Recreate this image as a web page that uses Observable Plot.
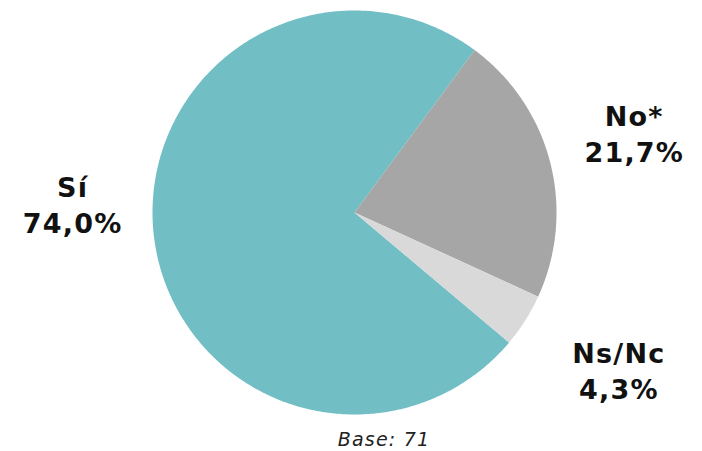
<!DOCTYPE html>
<html>
<head>
<meta charset="utf-8">
<script src="https://cdn.jsdelivr.net/npm/d3@7"></script>
<script src="https://cdn.jsdelivr.net/npm/@observablehq/plot@0.6"></script>
<style>
  body { margin: 0; background: #fff; }
  #chart { width: 702px; }
  .caption { font-family: "DejaVu Sans", Verdana, sans-serif; font-style: italic; font-size: 19px; letter-spacing: 1.2px; color: #222; text-align: center; padding-left: 66px; width: 636px; margin-top: 4px; }
</style>
</head>
<body>
<div id="chart"></div>
<script>
const categories = ["Sí", "No*", "Ns/Nc"];
const values = [74.0, 21.7, 4.3];
const labels = ["74,0%", "21,7%", "4,3%"];
const colors = ["#72BEC5", "#A6A6A6", "#D9D9D9"];
// layout only
const startAngleDeg = 130.1;
const labelRadius = [1.40, 1.43, 1.52];
const labelDx = [-1, 0, 5];
const labelDy = [-39, -5, -4];

const data = categories.map((c, i) => ({category: c, value: values[i], label: labels[i], color: colors[i]}));
const start = startAngleDeg * Math.PI / 180;
const arcs = d3.pie().value(d => d.value).sort(null)
  .startAngle(start).endAngle(start + 2 * Math.PI)(data);

// polygon points for each slice in unit coordinates (x right, y up)
const slicePts = [];
arcs.forEach((a, k) => {
  slicePts.push({k, x: 0, y: 0, color: a.data.color});
  const n = Math.max(2, Math.ceil((a.endAngle - a.startAngle) / 0.01));
  for (let j = 0; j <= n; j++) {
    const t = a.startAngle + (a.endAngle - a.startAngle) * j / n;
    slicePts.push({k, x: Math.sin(t), y: Math.cos(t), color: a.data.color});
  }
  slicePts.push({k, x: 0, y: 0, color: a.data.color});
});

const labelPts = arcs.map((a, i) => {
  const m = (a.startAngle + a.endAngle) / 2;
  const r = labelRadius[i];
  return {x: r * Math.sin(m), y: r * Math.cos(m), cat: a.data.category, pct: a.data.label, dx: labelDx[i], dy: labelDy[i]};
});

const W = 702, H = 424;
const marks = [
  Plot.line(slicePts, {x: "x", y: "y", z: "k", fill: "color", stroke: "none", curve: "linear"})
];
labelPts.forEach(p => {
  marks.push(Plot.text([p], {x: "x", y: "y", text: "cat", dx: p.dx, dy: p.dy - 18, fontSize: 27, fontWeight: "bold", fill: "#111"}));
  marks.push(Plot.text([p], {x: "x", y: "y", text: "pct", dx: p.dx, dy: p.dy + 18, fontSize: 27, fontWeight: "bold", fill: "#111"}));
});

const plot = Plot.plot({
  width: W, height: H,
  marginLeft: 152, marginRight: 146, marginTop: 10, marginBottom: 10,
  x: {domain: [-1, 1], axis: null},
  y: {domain: [-1, 1], axis: null},
  style: {fontFamily: "'DejaVu Sans', Verdana, sans-serif", background: "#fff", overflow: "visible", letterSpacing: "1.2px"},
  marks
});
document.getElementById("chart").appendChild(plot);
const cap = document.createElement("div");
cap.className = "caption";
cap.textContent = "Base: 71";
document.getElementById("chart").appendChild(cap);
</script>
</body>
</html>
